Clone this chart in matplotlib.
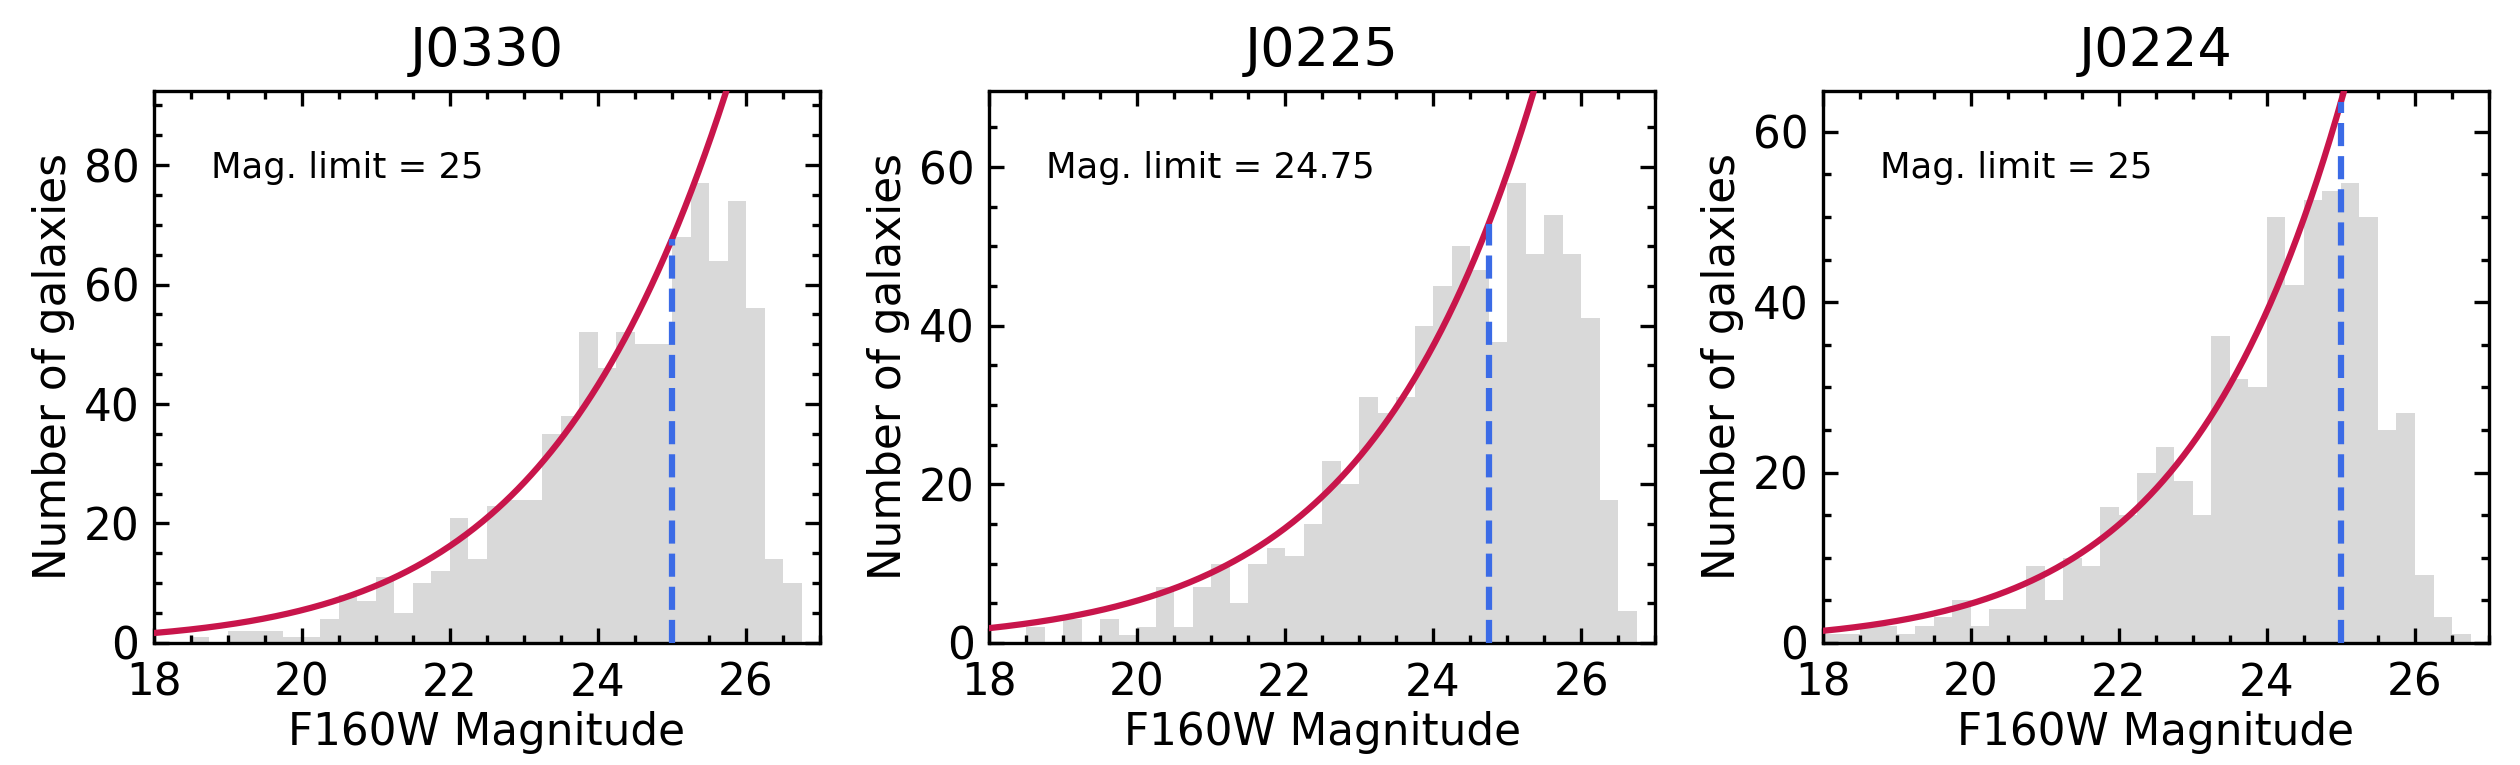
import numpy as np
import matplotlib
matplotlib.use("Agg")
import matplotlib.pyplot as plt
from matplotlib.ticker import MultipleLocator

# F160W magnitude histograms, bins of 0.25 mag from 18 to 27
fields = ["J0330", "J0225", "J0224"]
mag_limits = [25, 24.75, 25]
bin_edges = np.arange(18.0, 27.0 + 0.001, 0.25)

counts_j0330 = [0, 0, 1, 0, 2, 2, 2, 1, 1, 4, 8, 7, 11, 5, 10, 12, 21, 14,
                23, 24, 24, 35, 38, 52, 46, 52, 50, 50, 68, 77, 64, 74, 56, 14, 10, 0]
counts_j0225 = [0, 0, 2, 0, 3, 0, 3, 1, 2, 7, 2, 7, 10, 5, 10, 12, 11, 15,
                23, 20, 31, 29, 31, 40, 45, 50, 47, 38, 58, 49, 54, 49, 41, 18, 4, 0]
counts_j0224 = [1, 1, 2, 2, 1, 2, 3, 5, 2, 4, 4, 9, 5, 10, 9, 16, 15, 20,
                23, 19, 15, 36, 31, 30, 50, 42, 52, 53, 54, 50, 25, 27, 8, 3, 1, 0]
all_counts = [counts_j0330, counts_j0225, counts_j0224]

# number-count model: log10 N = c0 + c1*(m - mlim) + c2*(m - mlim)^2
curve_c0 = [1.83, 1.723, 1.803]
curve_c1 = [0.189, 0.1972, 0.2084]
curve_c2 = [-0.0058, -0.00263, -0.00386]

plt.rcParams['font.family'] = ['DejaVu Sans']
plt.rcParams['axes.linewidth'] = 0.8

fig = plt.figure(figsize=(8.4, 2.55), dpi=300)
lefts = [0.0611, 0.3925, 0.7234]

for i in range(3):
    ax = fig.add_axes([lefts[i], 0.1595, 0.2643, 0.7216])
    counts = np.array(all_counts[i])
    ax.stairs(counts, bin_edges, fill=True, color='#d9d9d9', lw=0)

    m = np.linspace(18, 27, 400)
    d = m - mag_limits[i]
    model = 10 ** (curve_c0[i] + curve_c1[i] * d + curve_c2[i] * d ** 2)
    ax.plot(m, model, color='#c8154b', lw=1.5, zorder=3)

    # limit line up to the model value at the limit
    top = 10 ** curve_c0[i]
    ax.vlines(mag_limits[i], 0, top, colors='#3b6be6', linestyles='--',
              lw=1.5, zorder=4)

    ax.set_xlim(18, 27)
    ax.set_ylim(0, 1.2 * counts.max())
    ax.xaxis.set_major_locator(MultipleLocator(2))
    ax.xaxis.set_minor_locator(MultipleLocator(0.5))
    ax.yaxis.set_major_locator(MultipleLocator(20))
    ax.yaxis.set_minor_locator(MultipleLocator(5))
    ax.tick_params(which='both', direction='in', top=True, right=True,
                   width=0.8, labelsize=10.5)
    ax.tick_params(which='major', length=3.5)
    ax.tick_params(which='minor', length=2)
    ax.tick_params(axis='x', pad=4.5)

    lim_txt = f"{mag_limits[i]:g}"
    ax.text(0.085, 0.86, f"Mag. limit = {lim_txt}", transform=ax.transAxes,
            fontsize=8.5, va='center', ha='left')
    ax.set_title(fields[i], fontsize=13, pad=6)
    ax.set_xlabel("F160W Magnitude", fontsize=10.5, labelpad=1.5)
    ax.set_ylabel("Number of galaxies", fontsize=10.5, labelpad=2)

fig.savefig("out.png", dpi=300)
